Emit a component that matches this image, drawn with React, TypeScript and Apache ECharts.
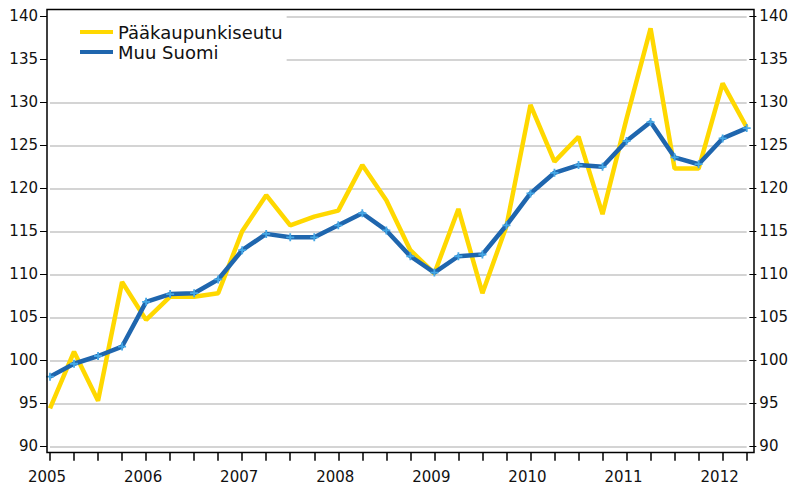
import React, { useEffect, useRef } from "react";
import * as echarts from "echarts";

const categories = [
  "2005Q1", "2005Q2", "2005Q3", "2005Q4",
  "2006Q1", "2006Q2", "2006Q3", "2006Q4",
  "2007Q1", "2007Q2", "2007Q3", "2007Q4",
  "2008Q1", "2008Q2", "2008Q3", "2008Q4",
  "2009Q1", "2009Q2", "2009Q3", "2009Q4",
  "2010Q1", "2010Q2", "2010Q3", "2010Q4",
  "2011Q1", "2011Q2", "2011Q3", "2011Q4",
  "2012Q1", "2012Q2",
];

const paakaupunkiseutu = [
  94.4, 101.0, 95.3, 109.1, 104.7, 107.4, 107.4, 107.8, 115.0, 119.2,
  115.7, 116.7, 117.4, 122.7, 118.6, 112.8, 110.1, 117.6, 107.8, 115.6,
  129.7, 123.1, 126.0, 117.0, 128.1, 138.6, 122.3, 122.3, 132.2, 127.1,
];

const muuSuomi = [
  98.1, 99.6, 100.5, 101.6, 106.8, 107.7, 107.8, 109.4, 112.8, 114.7,
  114.3, 114.3, 115.7, 117.1, 115.1, 112.1, 110.2, 112.1, 112.3, 115.7,
  119.4, 121.8, 122.7, 122.5, 125.5, 127.7, 123.6, 122.8, 125.8, 127.0,
];

const seriesNames = ["Pääkaupunkiseutu", "Muu Suomi"];

const FONT = "DejaVu Sans";
const YELLOW = "#FFD800";
const BLUE = "#1F66AE";
const MARK = "#45A8E6";

export default function App() {
  const ref = useRef<HTMLDivElement>(null);
  useEffect(() => {
    if (!ref.current) return;
    const chart = echarts.init(ref.current, undefined, { renderer: "svg" });
    const yAxisCommon = {
      type: "value",
      min: 90,
      max: 140,
      interval: 5,
      axisLine: { show: false },
      axisTick: { show: true, length: 7, lineStyle: { color: "#000", width: 1 } },
      splitLine: { show: true, lineStyle: { color: "#c6c6c6", width: 1.5 } },
    };
    chart.setOption({
      animation: false,
      backgroundColor: "#fff",
      textStyle: { fontFamily: FONT },
      grid: { left: 50, right: 39.7, top: 16.3, bottom: 39.7 },
      legend: {
        orient: "vertical",
        left: 48,
        top: 10,
        padding: [12, 4, 2, 32],
        backgroundColor: "#fff",
        itemGap: 0,
        itemWidth: 33,
        itemHeight: 4,
        icon: "rect",
        textStyle: { fontSize: 18, fontFamily: FONT, color: "#111", lineHeight: 20 },
        data: [
          { name: seriesNames[0], itemStyle: { color: YELLOW } },
          { name: seriesNames[1], itemStyle: { color: BLUE } },
        ],
      },
      xAxis: {
        type: "category",
        data: categories,
        boundaryGap: false,
        offset: 6.4,
        axisLine: { show: false },
        axisTick: { show: true, length: 8, interval: 0, lineStyle: { color: "#000", width: 1.5 } },
        axisLabel: {
          interval: (i: number) => i % 4 === 0,
          formatter: (v: string) => v.slice(0, 4),
          fontSize: 15,
          fontFamily: FONT,
          color: "#111",
          margin: 17,
          padding: [0, 6, 0, 0],
        },
        splitLine: { show: false },
      },
      yAxis: [
        {
          ...yAxisCommon,
          position: "left",
          offset: 3,
          axisLabel: { fontSize: 15, fontFamily: FONT, color: "#111", margin: 9 },
        },
        {
          ...yAxisCommon,
          position: "right",
          offset: 2.7,
          splitLine: { show: false },
          axisLabel: { fontSize: 15, fontFamily: FONT, color: "#111", margin: 10 },
        },
      ],
      graphic: [
        {
          type: "rect",
          z: 20,
          silent: true,
          shape: { x: 47, y: 9.5, width: 707, height: 443 },
          style: { fill: "none", stroke: "#000", lineWidth: 1.5 },
        },
      ],
      series: [
        {
          name: seriesNames[0],
          type: "line",
          data: paakaupunkiseutu,
          showSymbol: false,
          symbol: "none",
          lineStyle: { color: YELLOW, width: 4.5 },
          itemStyle: { color: YELLOW },
          z: 2,
        },
        {
          name: seriesNames[1],
          type: "line",
          data: muuSuomi,
          symbol: "path://M3.1,0H4.9V3.1H8V4.9H4.9V8H3.1V4.9H0V3.1H3.1Z",
          symbolSize: 8,
          showSymbol: true,
          lineStyle: { color: BLUE, width: 4.5 },
          itemStyle: { color: MARK },
          z: 3,
        },
      ],
    });
    return () => chart.dispose();
  }, []);
  return <div ref={ref} style={{ width: 791, height: 486, position: "absolute", left: 0, top: 0 }} />;
}
